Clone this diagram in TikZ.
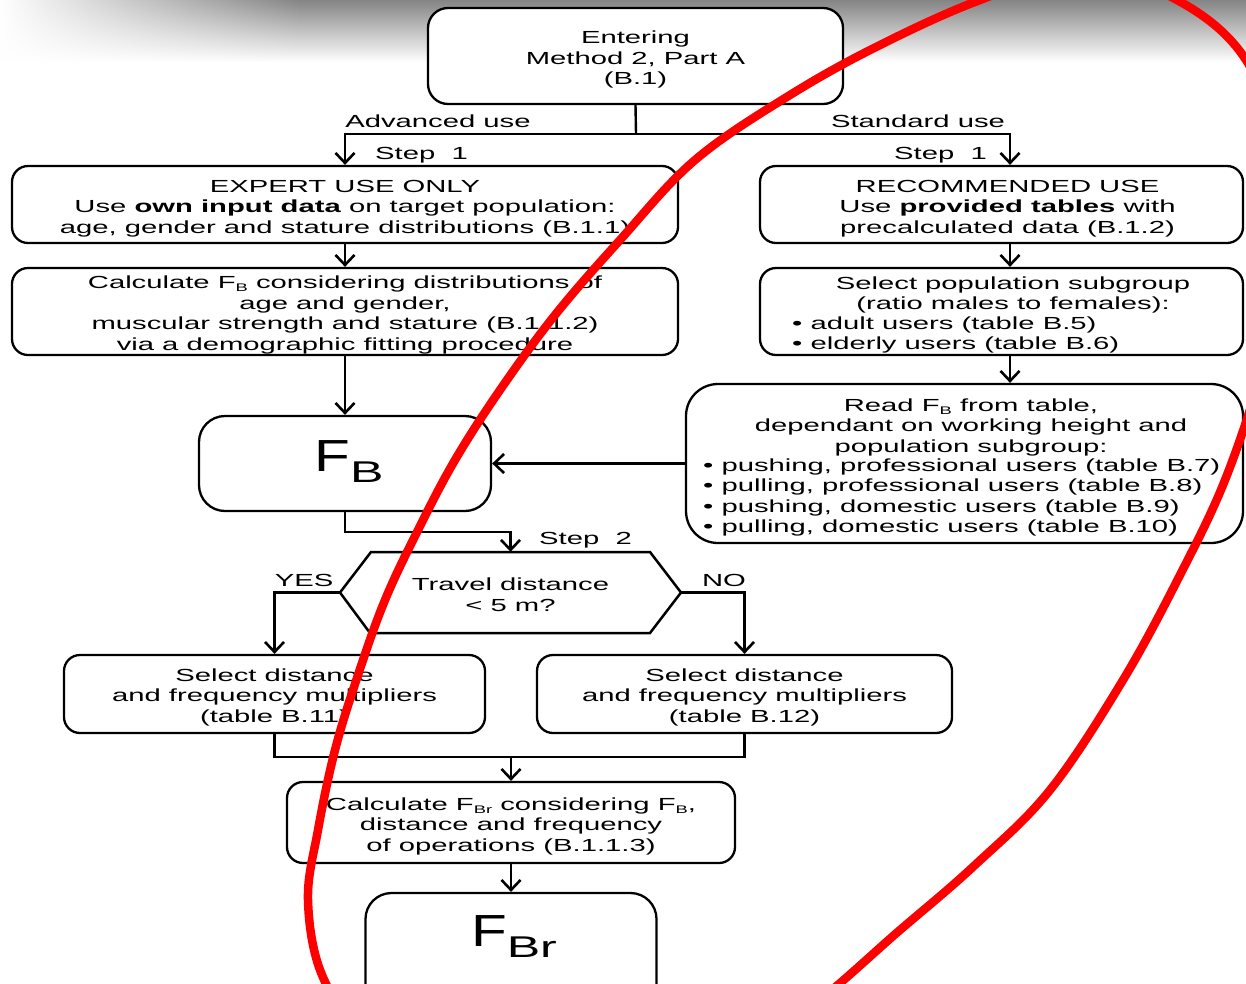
\documentclass[tikz,border=0pt]{standalone}
\usepackage{fontspec}
\setmainfont{Liberation Sans}[FakeStretch=1.67]
\newfontfamily\bigfont{Liberation Sans}[FakeStretch=1.3]
\usetikzlibrary{arrows.meta,fadings}
\newcommand{\mysub}[1]{\raisebox{-3pt}{\fontsize{11}{11}\selectfont #1}}
\begin{document}
\begin{tikzpicture}[x=1pt,y=-1pt,
  box/.style={draw, line width=2.3pt, rounded corners=16pt, fill=white, inner sep=0pt},
  txt/.style={inner sep=0pt, align=center, font=\fontsize{17.5}{20.5}\selectfont},
  lbl/.style={inner sep=0pt, font=\fontsize{17.5}{20.5}\selectfont},
  conn/.style={line width=2.4pt},
  arr/.style={conn, -{Straight Barb[length=10pt,width=19pt,line width=2.6pt]}},
  redmark/.style={draw=red, line width=8.5pt, line join=round}
  ]
\useasboundingbox (0,0) rectangle (1246,983);
\fill[white] (0,0) rectangle (1246,983);
% top shadow
\shade[top color=black!48, bottom color=white] (0,0) rectangle (1246,62);
\fill[white, path fading=east] (0,0) rectangle (300,62);

% boxes
\node[box, minimum width=415, minimum height=96, rounded corners=20pt] (top) at (635.5,56) {};
\node[txt] (topT) at ([yshift=-3.6pt]top.center) {Entering\\Method 2, Part A\\(B.1)};

\node[box, minimum width=666, minimum height=77] (expert) at (345,204.5) {};
\node[txt] (expertT) at ([yshift=-3.8pt]expert.center)
  {EXPERT USE ONLY\\Use \textbf{own input data} on target population:\\age, gender and stature distributions (B.1.1)};

\node[box, minimum width=666, minimum height=87] (calcfb) at (345,311.5) {};
\node[txt] (calcfbT) at ([yshift=-3.6pt]calcfb.center)
  {Calculate F\mysub{B} considering distributions of\\age and gender,\\muscular strength and stature (B.1.1.2)\\via a demographic fitting procedure};

\node[box, minimum width=292, minimum height=95, rounded corners=26pt] (fb) at (345,463.5) {};
\node[inner sep=0pt] (fbT) at (349,462)
  {{\bigfont\fontsize{45}{45}\selectfont F}\raisebox{-11pt}{\fontsize{30}{30}\selectfont B}};

\node[box, minimum width=483, minimum height=77] (rec) at (1001.5,204.5) {};
\node[txt] (recT) at ([yshift=-3.8pt,xshift=6pt]rec.center)
  {RECOMMENDED USE\\Use \textbf{provided tables} with\\precalculated data (B.1.2)};

\node[box, minimum width=483, minimum height=87] (selpop) at (1001.5,311.5) {};
\node[txt] (selpopH) at (1013,295) {Select population subgroup\\(ratio males to females):};
\node[txt, anchor=west, align=left] (selpopB) at (792,335) {• adult users (table B.5)\\• elderly users (table B.6)};

\node[box, minimum width=557, minimum height=159, rounded corners=32pt] (read) at (964.5,463.5) {};
\node[txt] (readH) at (971,427) {Read F\mysub{B} from table,\\dependant on working height and\\population subgroup:};
\node[txt, anchor=west, align=left] (readB) at (703,497.5)
  {• pushing, professional users (table B.7)\\• pulling, professional users (table B.8)\\• pushing, domestic users (table B.9)\\• pulling, domestic users (table B.10)};

% decision hexagon
\node[minimum width=341, minimum height=81, inner sep=0pt] (dec) at (510.5,592.5) {};
\node[txt] (decT) at ([yshift=-2pt]dec.center) {Travel distance\\< 5 m?};
\coordinate (decL) at (340,592.5);
\coordinate (decR) at (681,592.5);
\draw[line width=2.5pt, line join=miter] (decL) -- (371,552) -- (650,552) -- (decR) -- (650,633) -- (370,633) -- cycle;

\node[box, minimum width=421, minimum height=78] (sdl) at (274.5,694) {};
\node[txt] (sdlT) at ([yshift=-3.4pt]sdl.center) {Select distance\\and frequency multipliers\\(table B.11)};
\node[box, minimum width=415, minimum height=78] (sdr) at (744.5,694) {};
\node[txt] (sdrT) at ([yshift=-3.4pt]sdr.center) {Select distance\\and frequency multipliers\\(table B.12)};

\node[box, minimum width=448, minimum height=81] (calcfbr) at (511,822.5) {};
\node[txt] (calcfbrT) at ([yshift=-3.8pt]calcfbr.center)
  {Calculate F\mysub{Br} considering F\mysub{B},\\distance and frequency\\of operations (B.1.1.3)};

\node[box, minimum width=291, minimum height=134, rounded corners=26pt] (fbr) at (511,960) {};
\node[inner sep=0pt] (fbrT) at (514,937)
  {{\bigfont\fontsize{45}{45}\selectfont F}\raisebox{-11pt}{\fontsize{30}{30}\selectfont Br}};

% labels
\node[lbl] (adv) at (438,121) {Advanced use};
\node[lbl] (std) at (918,121) {Standard use};
\node[lbl, anchor=west] (step1l) at (375,155) {Step\ \ 1};
\node[lbl, anchor=east] (step1r) at (987,155) {Step\ \ 1};
\node[lbl, anchor=west] (step2) at (539,540) {Step\ \ 2};
\node[lbl] (yes) at (304,580) {YES};
\node[lbl] (no) at (724,580) {NO};

% connectors
\coordinate (split) at (636,134);
\draw[conn] (top.south) -- (split);
\draw[arr] (split) -| (expert.north);
\draw[arr] (split) -| ([xshift=8.5pt]rec.north);
\draw[arr] (expert.south) -- (calcfb.north);
\draw[arr] (calcfb.south) -- (fb.north);
\draw[arr] ([xshift=8.5pt]rec.south) -- ([xshift=8.5pt]selpop.north);
\path ([xshift=8.5pt]selpop.south) coordinate (spS);
\draw[arr] (spS) -- (spS |- read.north);
\draw[arr] (read.west) -- (fb.east);
\draw[arr] (fb.south) -- ++(0,20) -| (dec.north);
\draw[arr] (decL) -| (sdl.north);
\draw[arr] (decR) -| (sdr.north);
\coordinate (mj) at (511,757);
\draw[conn] (sdl.south) |- (mj) -| (sdr.south);
\draw[arr] (mj) -- (calcfbr.north);
\draw[arr] (calcfbr.south) -- (fbr.north);

% red annotation
\draw[redmark] plot[smooth cycle, tension=0.6] coordinates {
 (1080,-30) (1177,0) (1246,60) (1280,160) (1285,270) (1262,370) (1225,480)
 (1180,575) (1123,680) (1050,790) (975,865) (900,930) (800,1015) (690,1080)
 (570,1105) (450,1085) (365,1035) (322,975) (308,900) (318,830) (335,750)
 (358,675) (385,600) (418,530) (455,460) (500,390) (555,315) (620,240)
 (695,160) (790,95) (880,45) (980,0)};
\end{tikzpicture}
\end{document}
